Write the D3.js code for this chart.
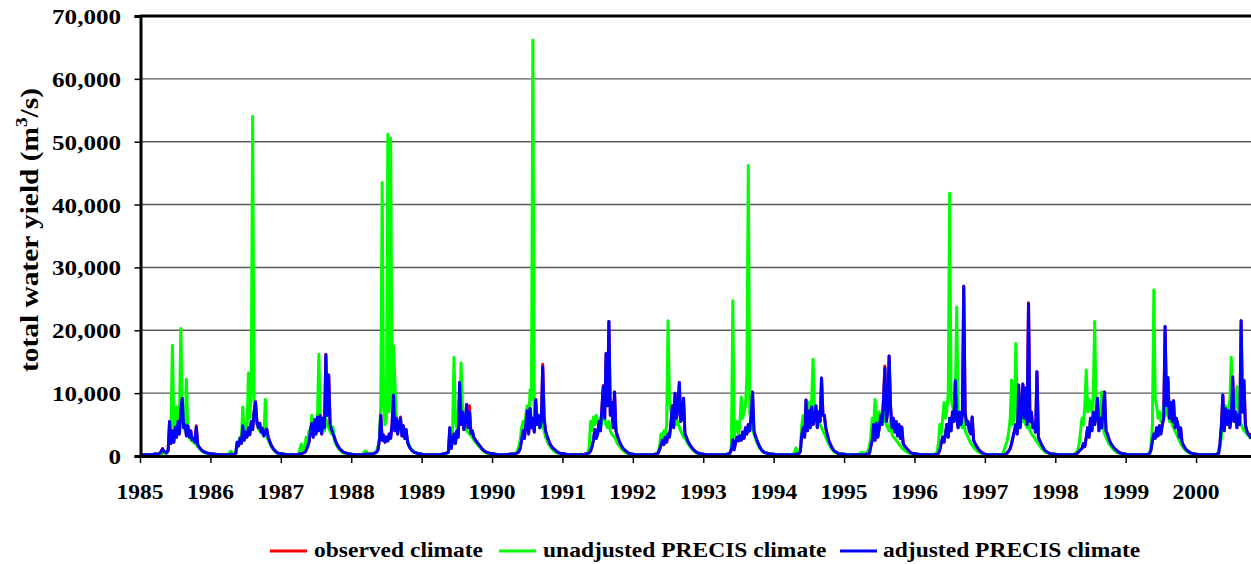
<!DOCTYPE html>
<html><head><meta charset="utf-8">
<script src="https://cdn.jsdelivr.net/npm/d3@7"></script>
<style>
html,body{margin:0;padding:0;background:#fff;}
svg{display:block;}
text{font-family:"Liberation Serif","Times New Roman",serif;font-weight:bold;fill:#000;}
</style></head><body>
<svg id="chart" width="1251" height="564"></svg>
<script>
// ---------- data ----------
const years = [1985,1986,1987,1988,1989,1990,1991,1992,1993,1994,1995,1996,1997,1998,1999,2000];
// sampling points inside each year (fraction of year)
const sampleOffsets = [0,.05,.10,.15,.20,.25,.29,.32,
  .34,.36,.38,.40,.42,.44,.46,.48,.50,.52,.54,.56,.58,.60,.62,.64,.66,.68,.70,.72,.74,.76,.78,.80,.82,.84,.86,
  .89,.92,.95,.98];
const xEndYear = 2000.78;
const xTickYears = [1985,1986,1987,1988,1989,1990,1991,1992,1993,1994,1995,1996,1997,1998,1999,2000];
const yTickValues = [0,10,20,30,40,50,60,70];            // thousand m3/s
const yTickLabels = ["0","10,000","20,000","30,000","40,000","50,000","60,000","70,000"];
const seriesNames = ["observed climate","unadjusted PRECIS climate","adjusted PRECIS climate"];
const seriesColors = ["#ff0000","#00ff00","#0000ff"];

// total water yield, thousand m3/s, one row per year
const adjusted = [
[0.3,0.2,0.2,0.2,0.3,0.3,0.5,1.1, 0.7,0.6,0.5,0.9,5.5,2.0,4.0,2.2,4.6,3.0,5.5,3.5,7.5,9.2,4.5,5.0,3.2,4.8,3.0,4.0,2.6,2.8,2.2,4.6,1.8,1.4,1.1, 0.8,0.6,0.5,0.4],
[0.4,0.3,0.25,0.2,0.2,0.2,0.3,0.2, 0.3,0.4,2.2,1.6,2.8,2.0,4.8,2.5,3.8,3.0,4.5,3.4,5.5,4.2,7.0,8.6,5.5,4.5,5.2,3.8,4.4,3.2,4.0,4.3,3.0,2.4,1.8, 1.2,0.8,0.5,0.4],
[0.4,0.3,0.2,0.2,0.2,0.3,0.4,0.5, 0.6,0.9,1.5,2.2,4.0,5.2,3.0,5.8,3.5,6.2,4.0,6.5,3.5,6.0,4.5,16.1,6.5,12.9,5.0,4.2,3.6,3.0,2.3,1.8,1.4,1.1,0.9, 0.6,0.5,0.4,0.3],
[0.3,0.2,0.2,0.2,0.3,0.3,0.3,0.4, 0.5,0.6,1.0,2.5,6.5,2.5,3.2,2.2,3.0,2.4,3.5,2.8,5.0,9.7,4.0,6.0,3.5,5.2,6.0,3.2,4.8,2.8,4.2,2.2,1.6,1.2,0.9, 0.6,0.5,0.4,0.3],
[0.3,0.2,0.2,0.2,0.2,0.2,0.3,0.3, 0.4,0.5,0.6,4.5,1.2,2.5,3.5,2.0,4.0,3.0,11.7,5.0,7.0,4.2,5.5,8.2,4.5,7.0,3.6,4.0,3.0,2.6,2.3,2.0,1.7,1.4,1.1, 0.8,0.6,0.5,0.4],
[0.4,0.3,0.2,0.2,0.2,0.3,0.3,0.3, 0.4,0.5,0.7,1.2,2.5,4.0,2.8,5.0,7.2,3.5,7.6,4.5,6.0,3.8,9.0,5.0,6.5,4.5,5.5,14.2,6.0,4.0,3.2,2.6,2.0,1.6,1.3, 1.0,0.7,0.5,0.4],
[0.4,0.3,0.2,0.2,0.2,0.2,0.2,0.3, 0.3,0.4,0.5,0.8,1.5,2.5,4.2,2.8,3.5,5.5,4.0,7.5,11.0,6.0,16.3,8.0,21.4,6.5,8.5,4.5,10.2,4.0,3.2,2.6,2.0,1.6,1.2, 0.9,0.6,0.4,0.3],
[0.3,0.2,0.2,0.2,0.2,0.2,0.2,0.3, 0.3,0.5,1.0,1.8,2.5,1.8,3.0,2.2,3.5,3.0,5.0,8.0,4.5,10.0,6.0,7.5,11.7,5.5,6.0,9.2,3.5,3.0,2.4,2.0,1.6,1.3,1.0, 0.7,0.5,0.4,0.3],
[0.3,0.2,0.2,0.2,0.2,0.2,0.2,0.2, 0.3,0.3,0.5,1.0,2.6,1.0,2.2,3.0,2.4,3.2,2.5,3.8,2.8,4.5,3.5,5.0,4.0,6.5,10.2,4.0,3.2,2.6,2.0,1.5,1.1,0.8,0.6, 0.5,0.4,0.3,0.3],
[0.3,0.2,0.2,0.2,0.2,0.2,0.2,0.3, 0.3,0.4,0.8,3.5,4.5,3.0,8.9,4.0,7.2,4.5,7.8,5.0,6.0,8.0,4.5,7.0,5.5,12.4,6.5,6.5,4.5,3.5,2.6,2.0,1.5,1.1,0.8, 0.6,0.4,0.3,0.3],
[0.3,0.2,0.2,0.2,0.2,0.2,0.2,0.3, 0.3,0.4,1.5,2.5,5.0,2.5,5.2,3.0,4.5,6.5,5.0,9.0,14.0,5.5,7.0,15.9,8.0,4.5,6.0,3.8,5.5,3.2,5.0,2.8,4.6,2.0,1.6, 1.2,0.8,0.5,0.4],
[0.4,0.3,0.2,0.2,0.2,0.2,0.2,0.3, 0.4,1.0,2.0,3.0,2.2,3.5,5.0,3.0,6.0,4.0,7.0,5.5,12.0,6.0,4.5,7.0,5.0,6.5,27.0,7.0,5.0,5.5,4.0,3.5,6.2,2.5,2.0, 1.4,0.9,0.6,0.4],
[0.3,0.2,0.2,0.2,0.2,0.2,0.3,0.5, 0.8,1.2,2.0,3.0,4.0,5.0,3.5,11.3,4.5,7.0,11.4,6.0,10.8,5.0,24.2,5.5,7.0,4.5,5.0,3.8,13.4,3.0,2.4,1.9,1.5,1.1,0.8, 0.6,0.4,0.3,0.3],
[0.3,0.2,0.2,0.2,0.2,0.2,0.3,0.5, 0.8,1.0,1.2,2.0,1.5,3.0,4.5,3.0,6.0,4.0,7.0,5.0,6.5,9.2,4.0,6.0,4.5,7.5,10.2,4.0,3.5,2.8,2.2,1.8,1.5,1.2,1.0, 0.7,0.5,0.4,0.3],
[0.3,0.2,0.2,0.2,0.2,0.2,0.2,0.3, 0.4,1.0,2.5,3.5,2.8,4.5,3.2,4.8,3.5,5.0,6.0,20.6,8.0,12.5,6.0,8.5,5.5,8.8,4.5,6.0,5.0,3.0,4.5,2.2,1.7,1.3,1.0, 0.7,0.5,0.4,0.3],
[0.3,0.2,0.2,0.2,0.2,0.2,0.3,0.4, 2.0,5.0,9.7,4.0,7.5,5.0,7.2,4.5,6.0,12.6,5.5,7.0,4.5,6.5,5.0,21.5,7.0,12.0,5.0,4.0,3.5,3.2,2.8]
];

const observed = [
[0.3,0.2,0.2,0.2,0.3,0.3,0.5,1.2, 0.7,0.6,0.5,0.9,5.5,2.0,4.0,2.2,4.6,3.0,5.5,3.5,7.5,9.2,4.5,5.0,3.2,4.8,3.0,4.0,2.6,2.8,2.2,4.8,1.8,1.4,1.1, 0.8,0.6,0.5,0.4],
[0.4,0.3,0.25,0.2,0.2,0.2,0.3,0.2, 0.3,0.4,2.2,1.6,2.8,2.0,4.8,2.5,3.8,3.0,4.5,3.4,5.5,4.2,7.0,8.7,5.5,4.5,5.2,3.8,4.4,3.2,4.0,4.3,3.0,2.4,1.8, 1.2,0.8,0.5,0.4],
[0.4,0.3,0.2,0.2,0.2,0.3,0.4,0.5, 0.6,0.9,1.5,2.2,4.0,5.2,3.0,5.8,3.5,6.2,4.0,6.5,3.5,6.0,4.5,16.2,6.5,12.9,5.0,4.2,3.6,3.0,2.3,1.8,1.4,1.1,0.9, 0.6,0.5,0.4,0.3],
[0.3,0.2,0.2,0.2,0.3,0.3,0.3,0.4, 0.5,0.6,1.0,2.5,6.5,2.5,3.4,2.2,3.0,2.4,3.5,2.8,5.0,9.7,4.0,6.0,3.5,5.2,6.2,3.2,4.8,2.8,4.2,2.2,1.6,1.2,0.9, 0.6,0.5,0.4,0.3],
[0.3,0.2,0.2,0.2,0.2,0.2,0.3,0.3, 0.4,0.5,0.6,4.5,1.2,2.5,3.5,2.0,4.0,3.0,11.7,5.0,7.0,4.2,5.5,8.2,4.5,8.0,3.6,4.0,3.0,2.6,2.3,2.0,1.7,1.4,1.1, 0.8,0.6,0.5,0.4],
[0.4,0.3,0.2,0.2,0.2,0.3,0.3,0.3, 0.4,0.5,0.7,1.2,2.5,4.0,2.8,5.0,7.2,3.5,7.6,4.5,6.0,3.8,9.0,5.0,6.5,4.5,5.5,14.6,6.0,4.0,3.2,2.6,2.0,1.6,1.3, 1.0,0.7,0.5,0.4],
[0.4,0.3,0.2,0.2,0.2,0.2,0.2,0.3, 0.3,0.4,0.5,0.8,1.5,2.5,4.2,2.8,3.5,5.5,4.0,7.5,11.2,6.0,16.3,8.0,21.4,6.5,8.5,4.5,10.2,4.0,3.2,2.6,2.0,1.6,1.2, 0.9,0.6,0.4,0.3],
[0.3,0.2,0.2,0.2,0.2,0.2,0.2,0.3, 0.3,0.5,1.0,1.8,2.5,1.8,3.0,2.2,3.5,3.0,5.0,8.0,4.5,10.0,6.0,7.5,11.7,5.5,6.0,9.2,3.5,3.0,2.4,2.0,1.6,1.3,1.0, 0.7,0.5,0.4,0.3],
[0.3,0.2,0.2,0.2,0.2,0.2,0.2,0.2, 0.3,0.3,0.5,1.0,2.6,1.0,2.2,3.0,2.4,3.2,2.5,3.8,2.8,4.5,3.5,5.0,4.0,6.5,10.2,4.0,3.2,2.6,2.0,1.5,1.1,0.8,0.6, 0.5,0.4,0.3,0.3],
[0.3,0.2,0.2,0.2,0.2,0.2,0.2,0.3, 0.3,0.4,0.8,3.5,4.5,3.0,8.9,4.0,7.2,4.5,7.8,5.0,6.0,8.0,4.5,7.0,5.5,12.4,6.5,6.5,4.5,3.5,2.6,2.0,1.5,1.1,0.8, 0.6,0.4,0.3,0.3],
[0.3,0.2,0.2,0.2,0.2,0.2,0.2,0.3, 0.3,0.4,1.5,2.5,5.0,2.5,5.2,3.0,4.5,6.5,5.0,9.0,14.3,5.5,7.0,15.9,8.0,4.5,6.0,3.8,5.5,3.2,5.0,2.8,4.6,2.0,1.6, 1.2,0.8,0.5,0.4],
[0.4,0.3,0.2,0.2,0.2,0.2,0.2,0.3, 0.4,1.0,2.0,3.0,2.2,3.5,5.0,3.0,6.0,4.0,7.0,5.5,12.0,6.0,4.5,7.0,5.0,6.5,27.0,7.0,5.0,5.5,4.0,3.5,6.2,2.5,2.0, 1.4,0.9,0.6,0.4],
[0.3,0.2,0.2,0.2,0.2,0.2,0.3,0.5, 0.8,1.2,2.0,3.0,4.0,5.0,3.5,11.3,4.5,7.0,11.5,6.0,10.8,5.0,24.4,5.5,7.0,4.5,5.0,3.8,13.4,3.0,2.4,1.9,1.5,1.1,0.8, 0.6,0.4,0.3,0.3],
[0.3,0.2,0.2,0.2,0.2,0.2,0.3,0.5, 0.8,1.0,1.2,2.0,1.5,3.0,4.5,3.0,6.0,4.0,7.0,5.0,6.5,9.2,4.0,6.0,4.5,7.5,10.2,4.0,3.5,2.8,2.2,1.8,1.5,1.2,1.0, 0.7,0.5,0.4,0.3],
[0.3,0.2,0.2,0.2,0.2,0.2,0.2,0.3, 0.4,1.0,2.5,3.5,2.8,4.5,3.2,4.8,3.5,5.0,6.0,20.6,8.0,12.5,6.0,8.5,5.5,8.8,4.5,6.0,5.0,3.0,4.5,2.2,1.7,1.3,1.0, 0.7,0.5,0.4,0.3],
[0.3,0.2,0.2,0.2,0.2,0.2,0.3,0.4, 2.0,5.0,9.7,4.0,7.5,5.0,7.2,4.5,6.0,12.6,5.5,7.0,4.5,6.5,5.0,21.5,7.0,12.0,5.0,4.0,3.5,3.5,3.2]
];

const unadjusted = [
[0.3,0.2,0.2,0.2,0.2,0.2,0.3,0.4, 0.3,0.4,0.5,0.8,3.5,4.0,17.6,5.0,3.5,7.8,4.0,6.0,20.3,7.0,5.0,4.0,12.2,3.5,3.0,2.6,2.4,2.2,2.0,1.8,1.5,1.3,1.0, 0.7,0.5,0.4,0.3],
[0.4,0.3,0.2,0.2,0.2,0.2,0.8,0.3, 0.3,0.3,1.5,2.0,3.0,2.5,7.8,3.5,5.0,4.0,13.2,6.0,10.8,54.0,9.0,6.0,5.0,4.5,4.0,3.8,3.5,3.2,9.0,3.0,2.6,2.1,1.6, 1.1,0.7,0.5,0.4],
[0.4,0.3,0.2,0.2,0.2,0.2,1.9,0.5, 1.2,3.0,1.5,4.0,3.5,6.5,4.0,5.5,4.5,6.0,16.2,5.5,4.5,5.0,4.0,6.0,5.0,4.5,4.0,3.5,4.6,2.6,2.0,1.5,1.2,0.9,0.7, 0.5,0.4,0.3,0.3],
[0.3,0.2,0.2,0.2,0.8,0.3,0.3,0.4, 0.5,0.8,1.5,2.5,8.0,43.5,8.0,5.0,6.0,51.2,7.0,50.5,8.0,17.5,12.0,6.0,5.5,5.0,4.5,4.0,3.8,3.5,3.0,2.5,1.8,1.3,1.0, 0.7,0.5,0.4,0.3],
[0.3,0.2,0.2,0.2,0.2,0.2,0.2,0.3, 0.3,0.4,0.5,1.5,2.0,4.0,15.7,5.5,4.5,7.0,6.5,14.8,8.0,5.0,4.5,4.0,3.8,3.5,3.2,3.0,2.6,2.3,2.0,1.7,1.5,1.2,1.0, 0.7,0.5,0.4,0.3],
[0.4,0.3,0.2,0.2,0.2,0.2,0.3,0.3, 0.4,0.8,1.5,2.5,4.5,5.5,4.0,6.5,8.0,5.0,10.5,9.0,66.2,6.0,7.5,5.5,5.0,4.5,6.0,5.0,4.0,3.0,2.5,2.0,1.6,1.3,1.0, 0.7,0.5,0.4,0.3],
[0.3,0.2,0.2,0.2,0.2,0.2,0.2,0.2, 0.3,0.5,1.5,5.5,4.0,6.2,5.0,6.5,5.5,4.5,6.0,5.0,8.5,6.0,5.0,4.5,5.5,4.0,3.5,3.2,3.0,2.5,2.0,1.7,1.4,1.1,0.9, 0.6,0.4,0.3,0.3],
[0.3,0.2,0.2,0.2,0.2,0.2,0.2,0.3, 0.4,0.6,1.5,3.5,2.5,4.0,3.0,5.0,21.5,9.0,7.0,6.5,5.5,6.0,5.0,5.5,4.5,4.0,3.5,3.0,2.8,2.5,2.0,1.7,1.4,1.1,0.9, 0.6,0.4,0.3,0.3],
[0.3,0.2,0.2,0.2,0.2,0.2,0.2,0.2, 0.3,0.3,0.5,1.5,24.7,3.0,4.5,5.5,3.5,5.0,9.4,6.0,7.0,8.0,12.7,46.2,7.0,5.5,4.5,3.5,2.8,2.2,1.7,1.3,1.0,0.8,0.6, 0.5,0.4,0.3,0.3],
[0.3,0.2,0.2,0.2,0.2,0.2,0.4,1.3, 0.5,0.6,1.2,5.0,6.5,5.0,6.0,7.0,8.5,6.0,9.0,15.4,7.0,6.5,6.0,5.5,5.0,4.5,4.0,3.5,3.0,2.5,2.0,1.6,1.2,0.9,0.7, 0.5,0.4,0.3,0.3],
[0.3,0.2,0.2,0.2,0.2,0.6,0.3,0.5, 0.8,1.5,3.0,6.0,4.5,9.0,5.5,4.0,7.0,5.0,6.5,5.5,7.0,5.0,4.5,4.0,6.0,3.5,3.0,2.8,2.5,2.2,1.9,1.6,1.3,1.1,0.9, 0.7,0.5,0.4,0.3],
[0.4,0.3,0.2,0.2,0.2,0.2,0.3,0.5, 2.0,5.0,3.5,6.0,8.5,6.0,7.5,10.0,41.8,9.0,8.0,7.0,9.0,23.7,7.0,6.0,5.0,4.5,5.5,4.0,3.5,3.0,2.5,2.0,1.7,1.4,1.1, 0.8,0.6,0.4,0.3],
[0.3,0.2,0.2,0.2,0.2,0.2,1.5,2.5, 4.0,6.0,12.1,5.0,7.0,17.9,6.0,5.5,7.0,6.5,5.5,6.0,5.0,4.5,5.5,4.0,3.6,3.2,3.0,2.6,2.2,1.9,1.6,1.3,1.0,0.8,0.6, 0.5,0.4,0.3,0.3],
[0.3,0.2,0.2,0.2,0.2,0.2,0.4,1.0, 2.0,4.0,6.0,5.0,8.0,13.7,7.0,9.0,8.0,7.0,10.0,21.4,7.0,6.0,5.5,5.0,10.2,4.5,3.5,3.0,2.5,2.0,1.7,1.4,1.1,0.9,0.7, 0.5,0.4,0.3,0.3],
[0.3,0.2,0.2,0.2,0.2,0.2,0.2,0.3, 0.5,1.5,5.0,26.4,9.0,8.0,6.0,7.0,5.5,6.0,8.0,7.0,6.5,8.0,5.5,6.0,5.0,4.5,4.0,3.5,3.0,2.5,2.0,1.6,1.3,1.0,0.8, 0.6,0.4,0.3,0.3],
[0.3,0.2,0.2,0.2,0.2,0.2,0.3,0.5, 1.5,3.0,6.0,5.0,8.0,6.5,7.0,9.0,15.7,8.0,7.0,9.0,11.0,6.0,5.5,5.0,4.5,4.0,3.8,3.5,3.3,3.0,2.8]
];

// ---------- drawing ----------
const svg = d3.select("#chart");
const x = d3.scaleLinear().domain([1985, xEndYear]).range([140, 1251]);
const y = d3.scaleLinear().domain([0, 70]).range([456, 16]);

function toPoints(rows) {
  const pts = [];
  rows.forEach((row, i) => {
    row.forEach((v, k) => {
      if (k < sampleOffsets.length) pts.push([years[i] + sampleOffsets[k], v]);
    });
  });
  return pts;
}

// gridlines
svg.append("g").selectAll("line").data(yTickValues.filter(v => v > 0 && v < 70)).join("line")
  .attr("x1", 140).attr("x2", 1251).attr("y1", d => y(d)).attr("y2", d => y(d))
  .attr("stroke", "#5a5a5a").attr("stroke-width", 1.4);

// series
const line = d3.line().x(d => x(d[0])).y(d => y(d[1]));
[observed, unadjusted, adjusted].forEach((rows, i) => {
  svg.append("path").datum(toPoints(rows))
    .attr("fill", "none").attr("stroke", seriesColors[i])
    .attr("stroke-width", 3).attr("stroke-linejoin", "round")
    .attr("d", line);
});

// frame: top line, left axis, bottom axis
svg.append("line").attr("x1", 140).attr("x2", 1251).attr("y1", y(70)).attr("y2", y(70))
  .attr("stroke", "#000").attr("stroke-width", 3);
const yAxis = d3.axisLeft(y).tickValues(yTickValues).tickSize(6).tickFormat("");
const gy = svg.append("g").attr("transform", "translate(140.5,0)").call(yAxis);
gy.select(".domain").attr("stroke", "#000").attr("stroke-width", 3);
gy.selectAll(".tick line").attr("stroke", "#000").attr("stroke-width", 1.5);

const xAxis = d3.axisBottom(x).tickValues(xTickYears).tickSize(7).tickFormat("").tickSizeOuter(0);
const gx = svg.append("g").attr("transform", "translate(0,456)").call(xAxis);
gx.select(".domain").attr("stroke", "#000").attr("stroke-width", 3);
gx.selectAll(".tick line").attr("stroke", "#000").attr("stroke-width", 1.5);

// tick labels
svg.append("g").selectAll("text").data(yTickValues).join("text")
  .attr("transform", d => `translate(121,${y(d) + 8}) scale(1.14,1)`)
  .attr("text-anchor", "end").style("font-size", "22px")
  .text((d, i) => yTickLabels[i]);

svg.append("g").selectAll("text").data(xTickYears).join("text")
  .attr("transform", d => `translate(${x(d)},499) scale(1.07,1)`)
  .attr("text-anchor", "middle").style("font-size", "22px")
  .text(d => d);

// y-axis title
const title = svg.append("text")
  .attr("transform", "translate(38,230) rotate(-90) scale(1.13,1)")
  .attr("text-anchor", "middle").style("font-size", "26px");
title.append("tspan").text("total water yield (m");
title.append("tspan").attr("dy", -11).style("font-size", "17px").text("3");
title.append("tspan").attr("dy", 11).text("/s)");

// legend
const legendLineX = [270, 499, 840];
const legendTextX = [314, 543, 883];
seriesNames.forEach((name, i) => {
  svg.append("line").attr("x1", legendLineX[i]).attr("x2", legendLineX[i] + 37)
    .attr("y1", 551).attr("y2", 551).attr("stroke", seriesColors[i]).attr("stroke-width", 3);
  svg.append("text").attr("transform", `translate(${legendTextX[i]},557) scale(1.12,1)`)
    .style("font-size", "21px").text(name);
});
</script>
</body></html>
